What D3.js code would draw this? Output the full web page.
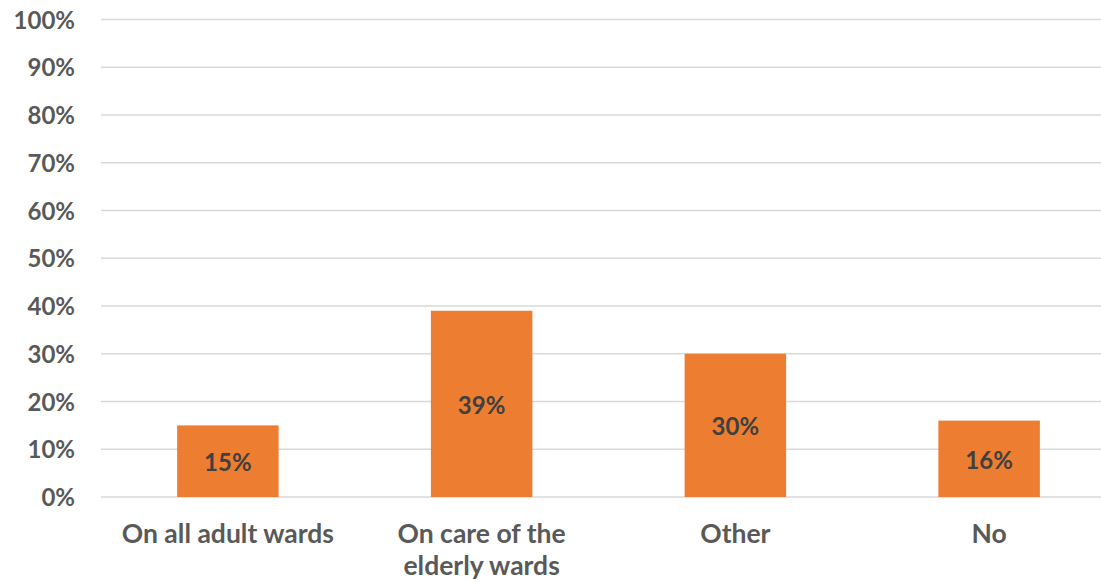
<!DOCTYPE html>
<html>
<head>
<meta charset="utf-8">
<script src="https://cdn.jsdelivr.net/npm/d3@7"></script>
<style>
  html, body { margin: 0; padding: 0; background: #fff; }
  svg { display: block; }
  text { font-family: Lato, "Open Sans", sans-serif; font-weight: bold; }
</style>
</head>
<body>
<div id="chart"></div>
<script>
// Categories (each entry is a list of label lines) and their shares
const categories = [["On all adult wards"], ["On care of the", "elderly wards"], ["Other"], ["No"]];
const values = [0.15, 0.39, 0.30, 0.16];
const yTicks = [0, 0.1, 0.2, 0.3, 0.4, 0.5, 0.6, 0.7, 0.8, 0.9, 1.0];

const W = 1101, H = 582;
const svg = d3.select("#chart").append("svg").attr("width", W).attr("height", H);

const plotLeft = 101, plotRight = 1116, plotTop = 19.5, plotBottom = 497;

const x = d3.scaleBand()
  .domain(d3.range(categories.length))
  .range([plotLeft, plotRight])
  .paddingInner(0.6)
  .paddingOuter(0.3);

const y = d3.scaleLinear().domain([0, 1]).range([plotBottom, plotTop]);

// Horizontal gridlines
svg.append("g")
  .selectAll("line")
  .data(yTicks)
  .join("line")
  .attr("x1", plotLeft)
  .attr("x2", plotRight)
  .attr("y1", d => y(d))
  .attr("y2", d => y(d))
  .attr("stroke", "#d9d9d9")
  .attr("stroke-width", 1.6);

// Y axis tick labels
const yAxis = d3.axisLeft(y).tickValues(yTicks).tickFormat(d3.format(".0%")).tickSize(0).tickPadding(0);
const yg = svg.append("g").attr("transform", "translate(75,0)").call(yAxis);
yg.select(".domain").remove();
yg.selectAll("text")
  .attr("fill", "#595959")
  .style("font-size", "24px")
  .attr("dy", "0.36em");

// Bars
svg.append("g")
  .selectAll("rect")
  .data(values)
  .join("rect")
  .attr("x", (d, i) => x(i))
  .attr("width", x.bandwidth())
  .attr("y", d => y(d))
  .attr("height", d => y(0) - y(d))
  .attr("fill", "#ed7d31");

// Value labels centred in bars
svg.append("g")
  .selectAll("text")
  .data(values)
  .join("text")
  .attr("x", (d, i) => x(i) + x.bandwidth() / 2)
  .attr("y", d => (y(d) + y(0)) / 2)
  .attr("dy", "0.42em")
  .attr("text-anchor", "middle")
  .attr("fill", "#404040")
  .style("font-size", "24px")
  .text(d => d3.format(".0%")(d));

// Category labels
const cat = svg.append("g")
  .selectAll("text")
  .data(categories)
  .join("text")
  .attr("x", (d, i) => x(i) + x.bandwidth() / 2)
  .attr("y", 543)
  .attr("text-anchor", "middle")
  .attr("fill", "#595959")
  .style("font-size", "26.5px");
cat.selectAll("tspan")
  .data(d => d)
  .join("tspan")
  .attr("x", function () { return this.parentNode.getAttribute("x"); })
  .attr("dy", (d, i) => i === 0 ? 0 : 31.5)
  .text(d => d);
</script>
</body>
</html>
